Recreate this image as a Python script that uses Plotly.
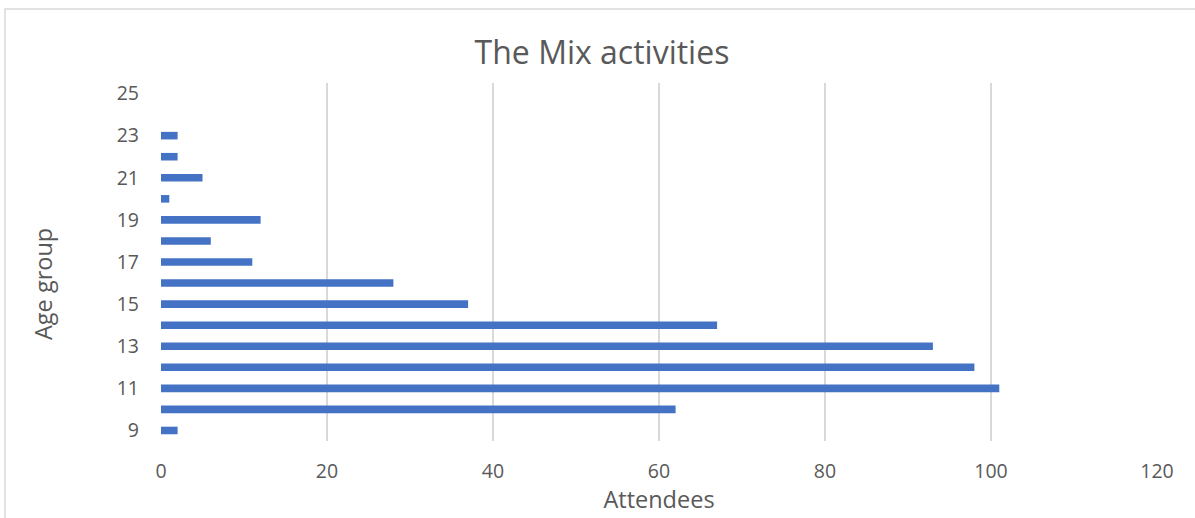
import plotly.graph_objects as go

# Attendance by age group
age_groups = [9, 10, 11, 12, 13, 14, 15, 16, 17, 18, 19, 20, 21, 22, 23, 24, 25]
attendees = [2, 62, 101, 98, 93, 67, 37, 28, 11, 6, 12, 1, 5, 2, 2, 0, 0]
x_ticks = [0, 20, 40, 60, 80, 100, 120]
y_ticks = [9, 11, 13, 15, 17, 19, 21, 23, 25]

TEXT = "#595959"
GRID = "#d9d9d9"
FONT = "'Open Sans', Lato, sans-serif"

W, H = 1195, 518
L, R, T, B = 161, 38, 83, 77
pw, ph = W - L - R, H - T - B

fig = go.Figure(
    go.Bar(
        x=attendees,
        y=age_groups,
        orientation="h",
        width=0.36,
        marker=dict(color="#4472C4", line=dict(width=0)),
    )
)

fig.update_layout(
    width=W,
    height=H,
    margin=dict(l=L, r=R, t=T, b=B),
    paper_bgcolor="white",
    plot_bgcolor="white",
    showlegend=False,
    font=dict(family=FONT, color=TEXT),
    title=dict(
        text="The Mix activities",
        x=602 / W,
        xanchor="center",
        y=1 - 53 / H,
        yanchor="middle",
        font=dict(size=32, color=TEXT, family=FONT),
    ),
    xaxis=dict(
        range=[0, 120],
        tickvals=x_ticks,
        showgrid=True,
        gridcolor=GRID,
        gridwidth=1.5,
        zeroline=False,
        showline=False,
        ticks="",
        ticklabelstandoff=16,
        tickfont=dict(size=19.5, color=TEXT),
        title=dict(text="Attendees", font=dict(size=23.5, color=TEXT), standoff=4),
    ),
    yaxis=dict(
        range=[8.5, 25.5],
        tickvals=y_ticks,
        showgrid=False,
        zeroline=False,
        showline=False,
        ticks="",
        ticklabelstandoff=21,
        tickfont=dict(size=19.5, color=TEXT),
    ),
    annotations=[
        # vertical axis title
        dict(
            text="Age group",
            textangle=-90,
            xref="paper",
            yref="paper",
            x=(43 - L) / pw,
            y=(H - B - 284) / ph,
            xanchor="center",
            yanchor="middle",
            showarrow=False,
            font=dict(size=23.5, color=TEXT, family=FONT),
        )
    ],
    shapes=[
        # chart-area frame
        dict(
            type="rect",
            xref="paper",
            yref="paper",
            x0=(5 - L) / pw,
            x1=(W + 10 - L) / pw,
            y0=(H - B - (H + 10)) / ph,
            y1=(H - B - 9) / ph,
            line=dict(color=GRID, width=1.5),
            fillcolor="rgba(0,0,0,0)",
            layer="below",
        )
    ],
)

fig.write_html("out.html")
